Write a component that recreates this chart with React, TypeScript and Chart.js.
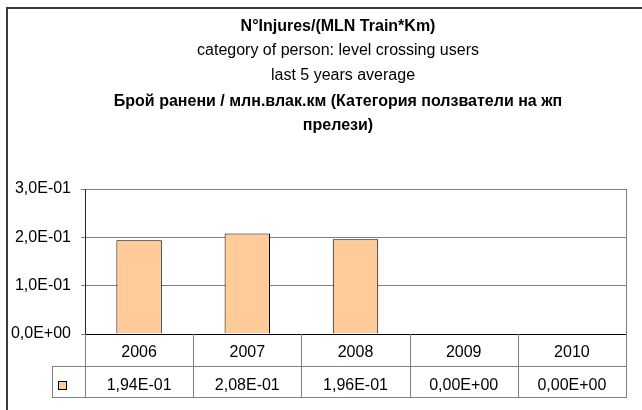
import React, { useEffect, useRef } from "react";
import { Chart, registerables } from "chart.js";

Chart.register(...registerables);

const categories = ["2006", "2007", "2008", "2009", "2010"];
const values = [0.194, 0.208, 0.196, 0, 0];
const yMin = 0;
const yMax = 0.3;
const yStep = 0.1;
const titleLines = [
  "N°Injures/(MLN Train*Km)",
  "category of person: level crossing users",
  "last 5 years average",
  "Брой ранени / млн.влак.км (Категория ползватели на жп",
  "прелези)",
];

function fmtExp(v: number, digits: number): string {
  const s = v.toExponential(digits);
  const [m, e] = s.split("e");
  const sign = e.startsWith("-") ? "-" : "+";
  const ex = e.replace(/[+-]/, "").padStart(2, "0");
  return m.replace(".", ",") + "E" + sign + ex;
}

const FONT = "'Liberation Sans', Arial, sans-serif";
const BAR_FILL = "#FFCC99";

const overlayPlugin = {
  id: "overlay",
  afterDraw(chart: any) {
    const ctx = chart.ctx as CanvasRenderingContext2D;
    const area = chart.chartArea;
    const xs = chart.scales.x;
    ctx.save();

    // outer chart border
    ctx.strokeStyle = "#3a3a3a";
    ctx.lineWidth = 2;
    ctx.beginPath();
    ctx.moveTo(7, 420);
    ctx.lineTo(7, 8);
    ctx.lineTo(660, 8);
    ctx.stroke();

    // titles
    const bold = [true, false, false, true, true];
    const baseY = [30.5, 54.5, 80, 106, 130];
    const cx = [338, 338, 343, 338, 338];
    ctx.fillStyle = "#000";
    ctx.textAlign = "center";
    ctx.textBaseline = "alphabetic";
    titleLines.forEach((t, i) => {
      ctx.font = `${bold[i] ? "bold " : ""}16px ${FONT}`;
      ctx.fillText(t, cx[i], baseY[i]);
    });

    // data table
    const n = categories.length;
    const step = (area.right - area.left) / n;
    const row1Top = area.bottom;
    const row2Top = 366;
    const row2Bot = 397;
    const legendLeft = 52;

    ctx.strokeStyle = "#808080";
    ctx.lineWidth = 1;
    ctx.beginPath();
    const R = Math.round(area.right) + 0.5;
    ctx.moveTo(R, area.top);
    ctx.lineTo(R, row2Bot + 1);
    ctx.moveTo(legendLeft, row2Top + 0.5);
    ctx.lineTo(R, row2Top + 0.5);
    ctx.moveTo(legendLeft, row2Bot + 0.5);
    ctx.lineTo(R, row2Bot + 0.5);
    ctx.moveTo(legendLeft + 0.5, row2Top);
    ctx.lineTo(legendLeft + 0.5, row2Bot + 1);
    for (let i = 0; i < n; i++) {
      const xl = Math.round(xs.getPixelForValue(i) - step / 2) + 0.5;
      ctx.moveTo(xl, row1Top);
      ctx.lineTo(xl, row2Bot + 1);
    }
    ctx.stroke();

    ctx.font = `16px ${FONT}`;
    ctx.fillStyle = "#000";
    ctx.textAlign = "center";
    ctx.textBaseline = "alphabetic";
    for (let i = 0; i < n; i++) {
      const x = xs.getPixelForValue(i);
      ctx.fillText(categories[i], x, 357);
      ctx.fillText(fmtExp(values[i], 2), x, 389.5);
    }

    // legend key
    const kx = 58.5, ky = 381.5;
    ctx.fillStyle = BAR_FILL;
    ctx.fillRect(kx, ky, 8, 8);
    ctx.strokeStyle = "#000";
    ctx.strokeRect(kx, ky, 8, 8);

    ctx.restore();
  },
};

export default function App() {
  const ref = useRef<HTMLCanvasElement | null>(null);
  useEffect(() => {
    if (!ref.current) return;
    const chart = new Chart(ref.current, {
      type: "bar",
      data: {
        labels: categories,
        datasets: [
          {
            data: values,
            backgroundColor: BAR_FILL,
            borderColor: "#000",
            borderWidth: 1,
            barPercentage: 0.42,
            categoryPercentage: 1,
          },
        ],
      },
      options: {
        animation: false,
        responsive: false,
        devicePixelRatio: 1,
        layout: { padding: { left: 0, top: 189, right: 16, bottom: 76 } },
        plugins: {
          legend: { display: false },
          title: { display: false },
          tooltip: { enabled: false },
        },
        scales: {
          x: {
            ticks: { display: false },
            grid: { display: false, drawTicks: false },
            border: { color: "#000", width: 1 },
            afterFit: (s: any) => {
              s.height = 0;
            },
          },
          y: {
            min: yMin,
            max: yMax,
            ticks: {
              stepSize: yStep,
              color: "#000",
              font: { family: FONT, size: 16 },
              padding: 10,
              callback: (v: any) => fmtExp(Number(v), 1),
            },
            grid: { color: "#808080", lineWidth: 1, tickLength: 4 },
            border: { color: "#222", width: 1 },
            afterFit: (s: any) => {
              s.width = 85;
            },
          },
        },
      },
      plugins: [overlayPlugin],
    });
    return () => chart.destroy();
  }, []);
  return (
    <div style={{ position: "fixed", left: 0, top: 0, width: 642, height: 410, background: "#fff" }}>
      <canvas ref={ref} width={642} height={410} style={{ width: 642, height: 410 }} />
    </div>
  );
}
